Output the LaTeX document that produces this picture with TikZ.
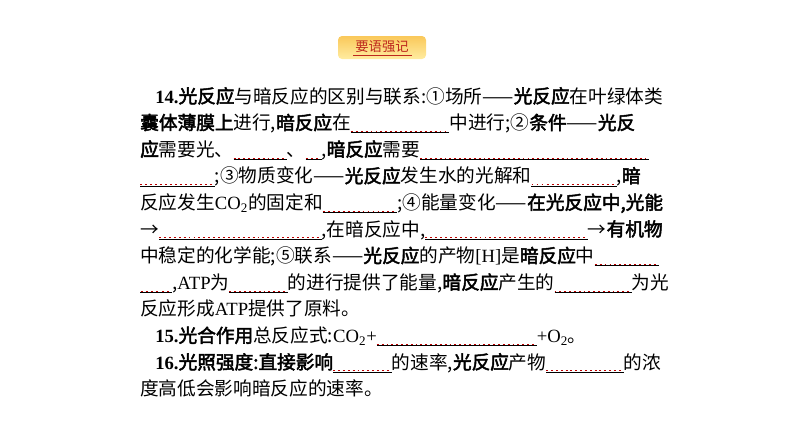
\documentclass[tikz,border=0pt]{standalone}
\usepackage{fontspec}
\setmainfont{Noto Sans CJK SC}[AutoFakeBold=2.5]
\newfontfamily\lat{Liberation Serif}
\usetikzlibrary{positioning}
\definecolor{hdtop}{RGB}{250,200,90}
\definecolor{hdbot}{RGB}{255,236,160}
\definecolor{hdtxt}{RGB}{190,40,30}
\newcommand\blank[1]{\rlap{\color{red!75!black}\raisebox{-1.6pt}{\hbox to #1{\xleaders\hbox{\rule{1.4pt}{0.5pt}\hspace{2.2pt}}\hfill}}}\rule[-2.6pt]{#1}{0.5pt}}
\newcommand\bb[1]{\textbf{#1}}
\newcommand\lt[1]{{\lat #1}}
\begin{document}
\begin{tikzpicture}[x=0.75pt,y=-0.75pt,
  line/.style={anchor=base west, inner sep=0pt, font=\fontsize{14}{14}\selectfont}]
\useasboundingbox (0,0) rectangle (794,447);
% header
\shade[top color=hdtop, bottom color=hdbot, rounded corners=3pt] (338,36) rectangle (426,59);
\node (head) at (382,46.5) {\color{hdtxt}\fontsize{10}{10}\selectfont 要语强记};
\draw[hdtxt, line width=0.5pt] (353,55) -- (412,55);
% text lines
\node[line] (l1) at (155,103) {\bb{\lt{14.}光反应}与暗反应的区别与联系:①场所——\bb{光反应}在叶绿体类};
\node[line] (l2) at (140,129.6) {\bb{囊体薄膜上}进行,\bb{暗反应}在\blank{74pt}中进行;②\bb{条件}——\bb{光反}};
\node[line] (l3) at (140,156.2) {\bb{应}需要光、\blank{40pt}、\blank{12pt},\bb{暗反应}需要\blank{172pt}};
\node[line] (l4) at (140,182.8) {\blank{56pt};③物质变化——\bb{光反应}发生水的光解和\blank{64pt},\bb{暗}};
\node[line] (l5) at (140,209.4) {反应发生\lt{CO\textsubscript{2}}的固定和\blank{56pt};④能量变化——\bb{在光反应中,光能}};
\node[line] (l6) at (140,236) {→\blank{122pt},在暗反应中,\blank{122pt}→\bb{有机物}};
\node[line] (l7) at (140,262.6) {中稳定的化学能;⑤联系——\bb{光反应}的产物\lt{[H]}是\bb{暗反应}中\blank{48pt}};
\node[line] (l8) at (140,289.2) {\blank{24pt},\lt{ATP}为\blank{44pt}的进行提供了能量,\bb{暗反应}产生的\blank{58pt}为光};
\node[line] (l9) at (140,315.8) {反应形成\lt{ATP}提供了原料。};
\node[line] (l10) at (155,342.4) {\bb{\lt{15.}光合作用}总反应式:\lt{CO\textsubscript{2}+}\blank{120pt}\lt{+O\textsubscript{2}}。};
\node[line] (l11) at (155,369) {\bb{\lt{16.}光照强度:直接影响}\blank{44pt}的速率,\bb{光反应}产物\blank{58pt}的浓};
\node[line] (l12) at (140,395.6) {度高低会影响暗反应的速率。};
\end{tikzpicture}
\end{document}
